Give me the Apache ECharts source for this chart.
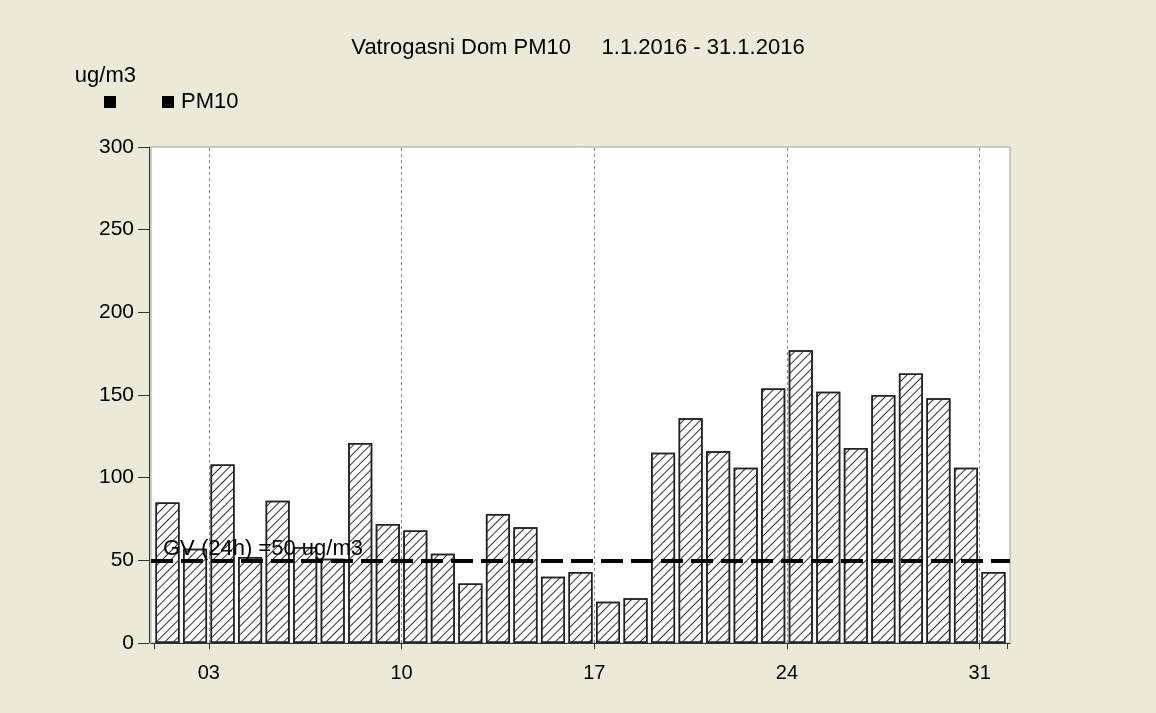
<!DOCTYPE html>
<html>
<head>
<meta charset="utf-8">
<script src="https://cdn.jsdelivr.net/npm/echarts@6/dist/echarts.min.js"></script>
<style>
html,body{margin:0;padding:0;background:#ECE9D8;}
#chart{width:1156px;height:713px;}
</style>
</head>
<body>
<div id="chart"></div>
<script>
// ---- data ----
var days = [1,2,3,4,5,6,7,8,9,10,11,12,13,14,15,16,17,18,19,20,21,22,23,24,25,26,27,28,29,30,31];
var pm10 = [85,57,108,52,86,58,51,121,72,68,54,36,78,70,40,43,25,27,115,136,116,106,154,177,152,118,150,163,148,106,43];
var labelDays = [3,10,17,24,31];
var tickDays = [1,3,10,17,24,31,32];
var gvLimit = 50;
var titleText = 'Vatrogasni Dom PM10     1.1.2016 - 31.1.2016';
var unitText = 'ug/m3';
var gvLabel = 'GV (24h) =50 ug/m3';

// each bar spans its whole day [d, d+1]
var barData = days.map(function (d, i) { return [d + 0.5, pm10[i]]; });
var gridLines = labelDays.map(function (d) {
  return { xAxis: d, lineStyle: { color: '#8a8a8a', width: 1, type: [3, 3] }, label: { show: false } };
});

var FONT = 'Liberation Sans, Arial, sans-serif';
var chart = echarts.init(document.getElementById('chart'));
chart.setOption({
  backgroundColor: '#ECE9D8',
  animation: false,
  textStyle: { fontFamily: FONT },
  title: {
    text: titleText, left: 'center', top: 32,
    textStyle: { fontSize: 22, fontWeight: 'normal', color: '#000', fontFamily: FONT }
  },
  legend: {
    left: 99, top: 86, itemWidth: 12, itemHeight: 12, itemGap: 46,
    textStyle: { fontSize: 22, color: '#000', fontFamily: FONT, padding: [0, 0, 0, 2] },
    formatter: function (n) { return n === 'GV' ? '' : n; },
    data: [
      { name: 'GV', icon: 'rect', itemStyle: { color: '#000', borderWidth: 0 } },
      { name: 'PM10', icon: 'rect', itemStyle: { color: '#000', borderWidth: 0, decal: { symbol: 'none' } } }
    ]
  },
  grid: {
    left: 151, right: 146, top: 147, bottom: 70,
    show: true, backgroundColor: '#ffffff', borderColor: '#a0a0a0', borderWidth: 1
  },
  xAxis: {
    type: 'value', min: 0.9, max: 32.1, offset: 6,
    axisLine: { show: true, lineStyle: { color: '#333', width: 1 } },
    axisTick: { show: true, length: 6, customValues: tickDays, lineStyle: { color: '#333' } },
    axisLabel: {
      customValues: labelDays, fontSize: 20, color: '#000', margin: 14, fontFamily: FONT,
      formatter: function (v) { return (v < 10 ? '0' : '') + v; }
    },
    splitLine: { show: false }
  },
  yAxis: {
    type: 'value', min: 0, max: 300, interval: 50, offset: 2,
    name: unitText, nameLocation: 'end', nameGap: 60,
    nameTextStyle: { fontSize: 22, color: '#000', align: 'right', padding: [0, 13, 0, 0], fontFamily: FONT },
    axisLine: { show: true, lineStyle: { color: '#333', width: 1 } },
    axisTick: { show: true, length: 11, lineStyle: { color: '#333' } },
    axisLabel: { fontSize: 21, color: '#000', margin: 15, fontFamily: FONT },
    splitLine: { show: false }
  },
  series: [
    {
      name: 'GV', type: 'line', data: [], color: '#000', z: 5,
      markLine: {
        silent: true, symbol: ['none', 'none'], animation: false,
        data: [{
          yAxis: gvLimit,
          lineStyle: { color: '#000', width: 4, type: [22, 8] },
          label: { show: true, position: 'insideStartTop', formatter: gvLabel, fontSize: 22, color: '#000', distance: [12, 0], fontFamily: FONT }
        }]
      }
    },
    {
      name: 'PM10', type: 'bar', data: barData, barWidth: 24, z: 3,
      itemStyle: {
        color: '#ffffff', borderColor: '#222', borderWidth: 1.5,
        decal: { symbol: 'rect', symbolSize: 1, dashArrayX: [1, 0], dashArrayY: [1, 5], rotation: -Math.PI / 4, color: '#333' }
      },
      markLine: {
        silent: true, symbol: ['none', 'none'], animation: false, z: 1,
        data: gridLines
      }
    }
  ]
});
</script>
</body>
</html>
